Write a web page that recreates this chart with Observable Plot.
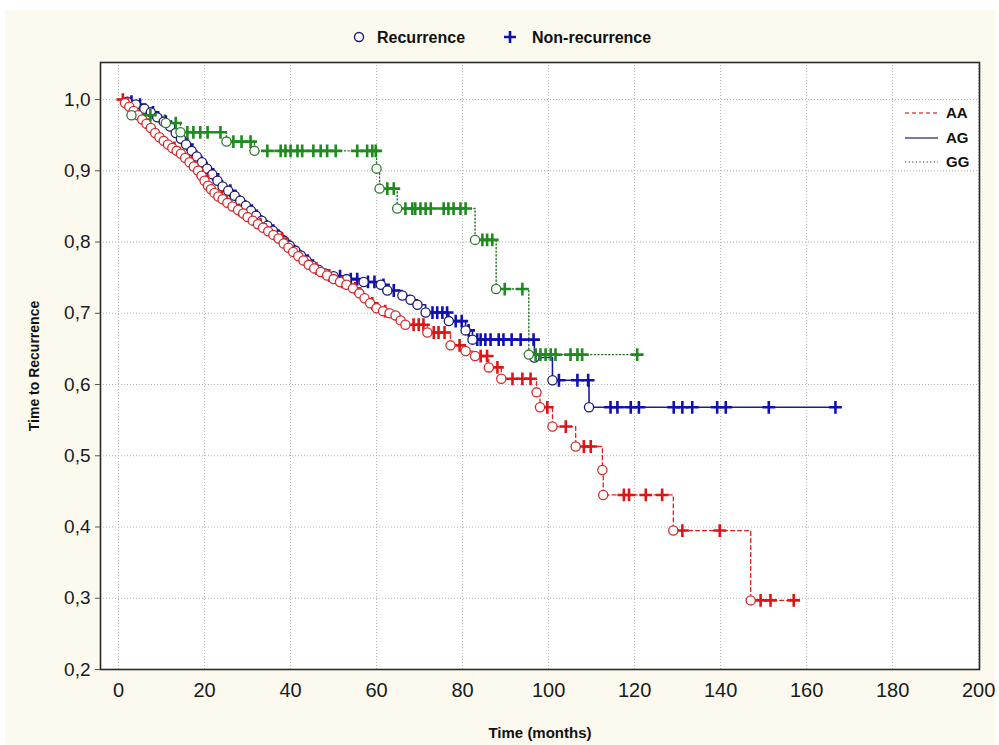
<!DOCTYPE html>
<html>
<head>
<meta charset="utf-8">
<script src="https://cdn.jsdelivr.net/npm/d3@7"></script>
<script src="https://cdn.jsdelivr.net/npm/@observablehq/plot@0.6"></script>
<style>
  body { margin:0; background:#ffffff; }
  #wrap { position:relative; width:999px; height:745px; overflow:hidden; }
  #bg { position:absolute; left:5px; top:10px; width:990px; height:735px; background:#fcf9ef; }
  #chart { position:absolute; left:0; top:0; }
  #overlay { position:absolute; left:0; top:0; pointer-events:none; }
  #overlay text { font-family:"Liberation Sans", Arial, sans-serif; font-weight:bold; fill:#111; }
</style>
</head>
<body>
<div id="wrap">
  <div id="bg"></div>
  <div id="chart"></div>
  <svg id="overlay" width="999" height="745"></svg>
</div>
<script>
// ---- data ----
const xTicks = [0, 20, 40, 60, 80, 100, 120, 140, 160, 180, 200];
const yTicks = [0.2, 0.3, 0.4, 0.5, 0.6, 0.7, 0.8, 0.9, 1.0];
const groupNames = ["AA", "AG", "GG"];
const markerNames = ["Recurrence", "Non-recurrence"];

// AA (recurrence events: time, survival)
const aaEventT = [1.5,2.5,3.5,4.5,5.5,6.5,7.5,8.5,9.5,10.5,11.5,12.5,13.5,14.5,15.5,16.5,17.5,18.5,19.3,20,20.8,21.5,22.3,23.2,24.2,25.3,26.5,27.8,29,30,31.2,32.4,33.6,34.8,36,37.2,38.4,39.5,40.6,41.8,43,44.2,45.5,47,48.5,50,51.5,53,54.5,56,57.2,58.5,60,61.5,63,64.4,65.6,66.7,71.8,77.2,80.7,82.9,86.1,89,97.2,98,100.9,106.3,112.5,112.7,129,147];
const aaEventS = [0.995,0.99,0.984,0.978,0.972,0.966,0.96,0.953,0.947,0.942,0.937,0.932,0.928,0.924,0.918,0.912,0.906,0.9,0.893,0.886,0.879,0.874,0.869,0.864,0.86,0.855,0.85,0.845,0.84,0.835,0.83,0.825,0.82,0.815,0.81,0.805,0.798,0.792,0.786,0.78,0.774,0.768,0.763,0.758,0.753,0.748,0.744,0.74,0.735,0.728,0.721,0.714,0.707,0.703,0.7,0.697,0.69,0.684,0.673,0.655,0.647,0.64,0.624,0.608,0.589,0.568,0.541,0.513,0.48,0.445,0.395,0.297];
const aaCensorT = [1,6,13,17,19.6,24,28,33,38,46,49,52,55,59,62,68.6,69.8,70.9,73.3,74.4,75.8,79.3,84.2,85.7,88.1,91.6,93.9,95.8,99.7,104,108.2,109.8,117.5,118.7,122.6,126.4,131.1,139.8,149.3,151.6,157];

// AG
const agEventT = [2,4,6,7.5,9,10.5,12,13.3,14.5,15.7,17,18.2,19.4,20.6,21.8,23,24.2,25.5,27,28.3,29.6,30.8,32,33.3,34.6,35.9,37.2,38.5,39.8,41.1,42.4,43.7,45,46.5,48,50,53,57,61,62.5,66,67.9,69.5,71.4,76.8,80.7,82.3,96.7,100.9,109.4];
const agEventS = [0.997,0.993,0.987,0.982,0.975,0.969,0.962,0.953,0.945,0.937,0.928,0.92,0.912,0.903,0.895,0.886,0.878,0.872,0.865,0.858,0.851,0.844,0.837,0.83,0.823,0.816,0.809,0.802,0.795,0.788,0.781,0.774,0.767,0.761,0.756,0.752,0.748,0.744,0.74,0.732,0.725,0.719,0.712,0.701,0.689,0.676,0.663,0.638,0.606,0.568];
const agCensorT = [3,5,8,11,16,22,26,31,36,44,51.5,54,55.5,58,59.5,61.6,64,73,74.1,75.3,76.4,78.4,79.8,81.4,83.4,84.2,85.3,86.5,88.4,89.5,91.4,93.5,96.5,102.4,106.7,109.2,114.4,116,119.1,121,129.1,131.1,133.4,139.2,141.2,151.2,166.7];

// GG
const ggEventT = [3,11,14.4,25.1,31.6,60,60.7,64.8,82.9,87.8,95.4];
const ggEventS = [0.978,0.967,0.954,0.941,0.928,0.903,0.875,0.847,0.803,0.734,0.642];
const ggCensorT = [7.4,13.3,16,17.4,19,20.7,23.7,26.7,28.6,30.7,34.6,37.7,38.8,40,41.6,42.7,45.3,47,48.5,50.5,55.5,57.8,59,59.8,62.5,64,66.7,68.3,69,70.2,71.4,72.6,75.6,76.7,77.9,79.5,80.7,84.6,85.7,86.9,89.8,93.9,97,98.1,99.3,100.5,101.6,105.1,106.7,107.8,120.6];

// ---- styles ----
const styles = {
  AA: {line:"#e3201f", circle:"#d42a2a", plus:"#e01414", dash:"4,3", width:1.3},
  AG: {line:"#1c1c96", circle:"#1a1a70", plus:"#1010b4", dash:null, width:1.6},
  GG: {line:"#2a6a2a", circle:"#2f7a2f", plus:"#1f8a1f", dash:"1.2,2.4", width:1.4}
};

function build(name, eT, eS, cT) {
  const sAt = t => { let s = 1; for (let i = 0; i < eT.length; i++) if (eT[i] <= t) s = eS[i]; return s; };
  const events = eT.map((t, i) => ({t, s: eS[i], g: name}));
  const censors = cT.map(t => ({t, s: sAt(t), g: name}));
  const line = [{t: 0, s: 1, g: name}, ...events, ...censors].sort((a, b) => a.t - b.t);
  return {name, events, censors, line};
}
const groups = [
  build("AG", agEventT, agEventS, agCensorT),
  build("AA", aaEventT, aaEventS, aaCensorT),
  build("GG", ggEventT, ggEventS, ggCensorT)
];

const fmt = d => d.toFixed(1).replace(".", ",");

const marks = [
  Plot.frame({fill: "white", stroke: null}),
  Plot.gridX(xTicks, {stroke: "#b0b0b0", strokeOpacity: 1, strokeDasharray: "1,2"}),
  Plot.gridY(yTicks, {stroke: "#b0b0b0", strokeOpacity: 1, strokeDasharray: "1,2"})
];
for (const g of groups) {
  const st = styles[g.name];
  marks.push(Plot.line(g.line, {x: "t", y: "s", curve: "step-after", stroke: st.line, strokeWidth: st.width, strokeDasharray: st.dash}));
}
for (const g of groups) {
  const st = styles[g.name];
  marks.push(Plot.dot(g.censors, {x: "t", y: "s", symbol: "plus", r: 4.2, stroke: st.plus, strokeWidth: 2.6}));
  marks.push(Plot.dot(g.events, {x: "t", y: "s", symbol: "circle", r: 4.6, fill: "white", stroke: st.circle, strokeWidth: 1.3}));
}
marks.push(
  Plot.frame({stroke: "#2a2a2a", strokeWidth: 1.6}),
  Plot.axisY(yTicks, {tickFormat: fmt, tickSize: 5, tickPadding: 5, fontSize: 19, fill: "#1a1a1a", stroke: "#555", fontFamily: "Liberation Sans, Arial, sans-serif", label: null}),
  Plot.axisX(xTicks, {tickFormat: d => String(d), tickSize: 0, tickPadding: 13, fontSize: 20, fill: "#1a1a1a", fontFamily: "Liberation Sans Narrow, Liberation Sans, Arial, sans-serif", label: null})
);

const chart = Plot.plot({
  width: 999,
  height: 745,
  marginLeft: 100,
  marginRight: 20,
  marginTop: 62,
  marginBottom: 76,
  x: {domain: [-4.2, 200.2]},
  y: {domain: [0.2, 1.052]},
  style: {background: "transparent", overflow: "visible"},
  marks
});
document.getElementById("chart").appendChild(chart);

// ---- overlay: legends and axis titles ----
const ov = d3.select("#overlay");
// top legend
ov.append("circle").attr("cx", 359).attr("cy", 37).attr("r", 4.5).attr("fill", "white").attr("stroke", "#1a1a80").attr("stroke-width", 1.4);
ov.append("text").attr("x", 377).attr("y", 43).attr("font-size", 16).text(markerNames[0]);
ov.append("path").attr("d", "M504,37h12M510,31v12").attr("stroke", "#1010b4").attr("stroke-width", 2.6);
ov.append("text").attr("x", 532).attr("y", 43).attr("font-size", 16).text(markerNames[1]);
// group legend
const legY = [113, 138, 162];
groupNames.forEach((n, i) => {
  const st = styles[n];
  ov.append("line").attr("x1", 905).attr("x2", 938).attr("y1", legY[i]).attr("y2", legY[i])
    .attr("stroke", n === "AA" ? "#e05050" : n === "AG" ? "#4a4a88" : "#6a7a6a").attr("stroke-width", 1.3)
    .attr("stroke-dasharray", st.dash);
  ov.append("text").attr("x", 946).attr("y", legY[i] + 5).attr("font-size", 15).text(n);
});
// axis titles
ov.append("text").attr("x", 540).attr("y", 738).attr("text-anchor", "middle").attr("font-size", 15).text("Time (months)");
ov.append("text").attr("transform", "translate(39,366) rotate(-90)").attr("text-anchor", "middle").attr("font-size", 14).text("Time to Recurrence");
</script>
</body>
</html>
